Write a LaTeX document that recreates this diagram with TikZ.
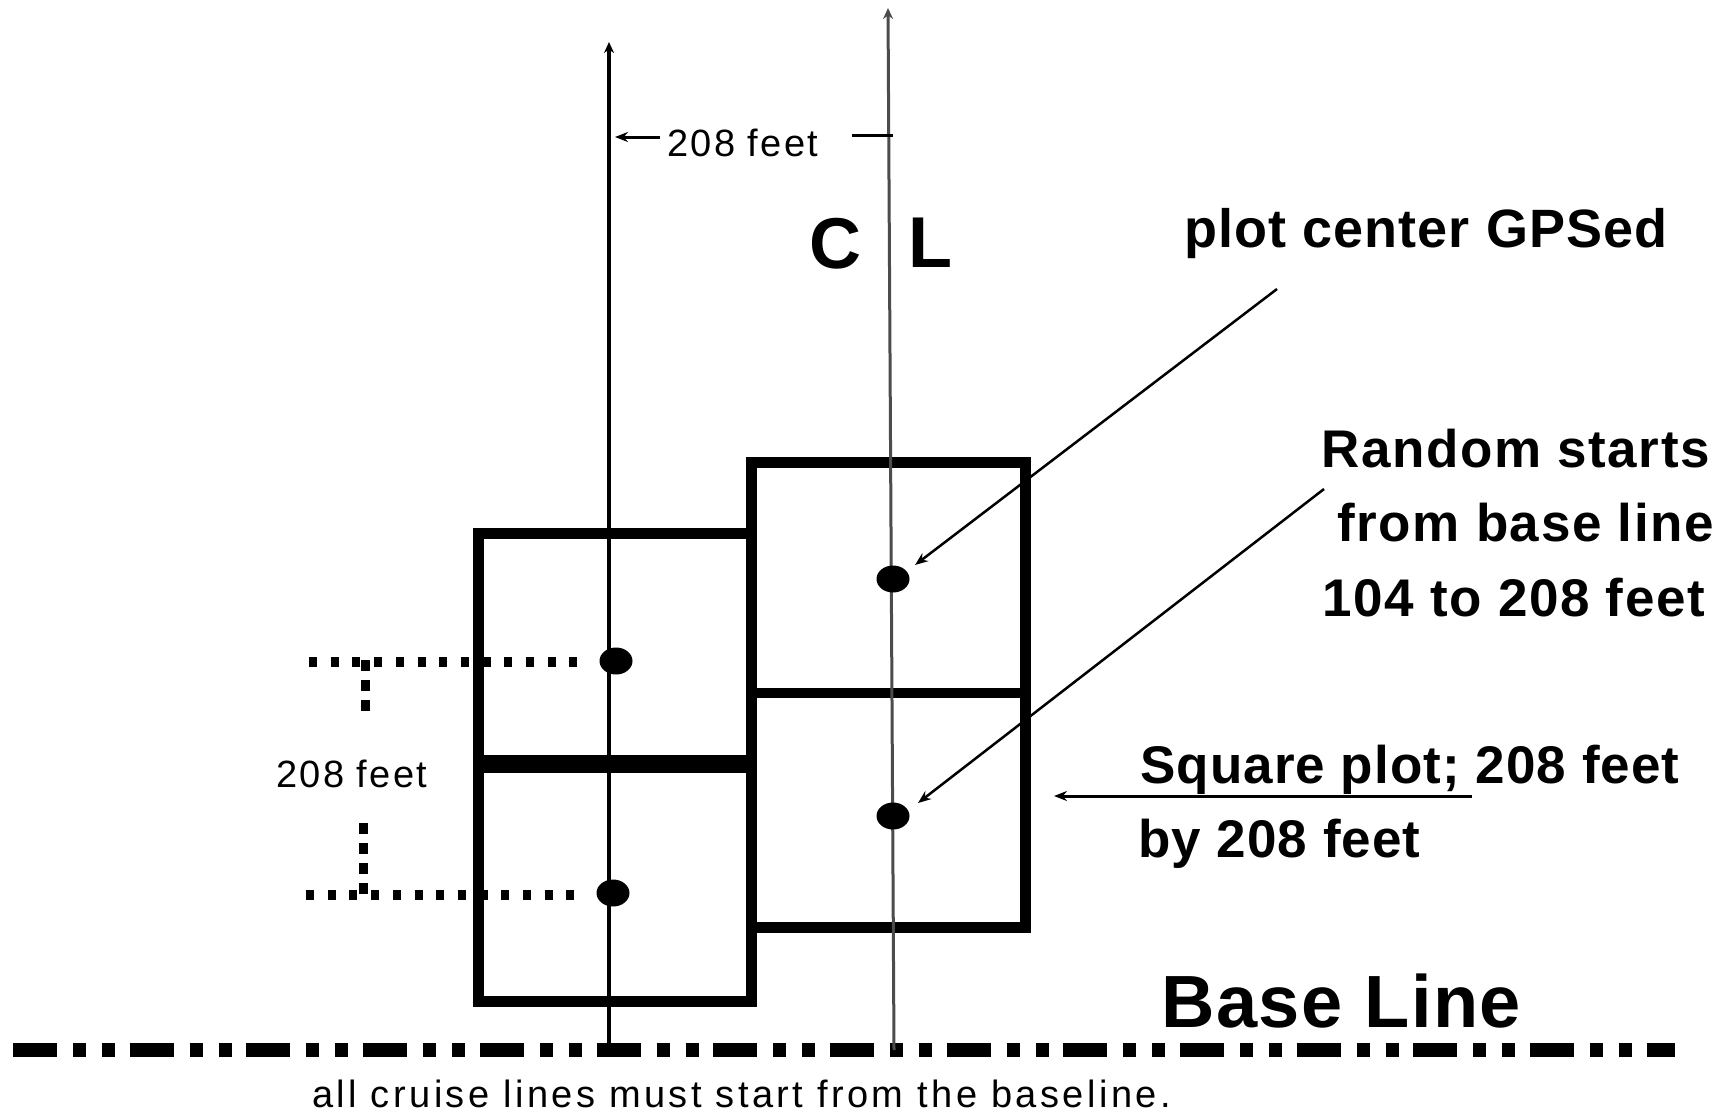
\documentclass[tikz,border=0pt]{standalone}
\usepackage{fontspec}
\setmainfont{Liberation Sans}
\newfontfamily\lsp[LetterSpace=6]{Liberation Sans}
\newfontfamily\lspw[LetterSpace=9]{Liberation Sans}
\newfontfamily\bsp[LetterSpace=2,BoldFont={Liberation Sans Bold}]{Liberation Sans}
\newfontfamily\bspw[LetterSpace=3,BoldFont={Liberation Sans Bold}]{Liberation Sans}
\usetikzlibrary{arrows.meta,shapes.geometric}
\begin{document}
\begin{tikzpicture}[x=1pt,y=-1pt,
  box/.style={line width=11pt, line join=miter},
  thinline/.style={line width=2.5pt},
  tipa/.style={-{Stealth[length=13pt,width=10pt]}},
  tipv/.style={-{Stealth[length=11pt,width=10pt]}},
  dotline/.style={line width=10pt, dash pattern=on 8pt off 13.7pt},
  vdotline/.style={line width=9pt, dash pattern=on 11pt off 9pt},
  dashdot/.style={line width=14pt, dash pattern=on 44pt off 16pt on 13pt off 16pt on 13pt off 14.7pt},
  dot/.style={ellipse, fill=black, minimum width=33pt, minimum height=27pt, inner sep=0pt},
  lbl/.style={inner sep=0pt, anchor=base west},
  reg/.style={lbl, font=\lsp\fontsize{38}{44}\selectfont},
  bold/.style={lbl, font=\bspw\bfseries\fontsize{53}{60}\selectfont},
  boldn/.style={lbl, font=\bsp\bfseries\fontsize{53}{60}\selectfont}
]
\useasboundingbox (0,0) rectangle (1731,1114);

% baseline
\coordinate (bl0) at (13,1050);
\coordinate (bl1) at (1675,1050);
\draw[dashdot] (bl0) -- (bl1);

% boxes
\draw[box] (478,533.5) rectangle (751,1001.5);
\draw[line width=18pt] (472.5,764) -- (756.5,764);
\draw[box] (751,462.5) rectangle (1025,927.5);
\draw[line width=10pt] (751,693) -- (1025,693);

% cruise lines
\coordinate (b1) at (609,1050); \coordinate (t1) at (609,42);
\coordinate (b2) at (894,1050); \coordinate (t2) at (888,8);
\draw[line width=3.5pt, tipv] (b1) -- (t1);
\draw[line width=3pt, black!70, tipv] (b2) -- (t2);

% plot centers
\node[dot] (d1) at (616,661) {};
\node[dot] (d2) at (613,893) {};
\node[dot] (d3) at (893,579) {};
\node[dot] (d4) at (893,816) {};

% dotted dimension lines
\coordinate (h1a) at (309,662); \coordinate (h1b) at (584,662);
\coordinate (h2a) at (306,895); \coordinate (h2b) at (581,895);
\draw[dotline] (h1a) -- (h1b);
\draw[dotline] (h2a) -- (h2b);
\coordinate (v1a) at (365,660); \coordinate (v1b) at (365,716);
\coordinate (v2a) at (363,823); \coordinate (v2b) at (363,896);
\draw[vdotline] (v1a) -- (v1b);
\draw[vdotline] (v2a) -- (v2b);
\node[reg] (lft) at (276,787) {208 feet};

% top dimension
\node[reg] (dimtop) at (667,156) {208 feet};
\coordinate (dl0) at (660,137); \coordinate (dl1) at (615,137);
\coordinate (dr0) at (852,135); \coordinate (dr1) at (893,135);
\draw[line width=3pt, tipa] (dl0) -- (dl1);
\draw[line width=3pt] (dr0) -- (dr1);

% C L
\node[lbl, font=\bfseries\fontsize{72}{80}\selectfont] (cc) at (809,268) {C};
\node[lbl, font=\bfseries\fontsize{72}{80}\selectfont] (ll) at (908,267) {L};

% right labels
\node[lbl, font=\bsp\bfseries\fontsize{54}{60}\selectfont] (pc) at (1184,247) {plot center GPSed};
\node[bold] (r1) at (1321,467) {Random starts};
\node[bold] (r2) at (1337,541) {from base line};
\node[bold] (r3) at (1322,616) {104 to 208 feet};
\node[boldn] (s1) at (1140,783) {Square plot; 208 feet};
\node[boldn] (s2) at (1138,857) {by 208 feet};
\node[lbl, font=\bsp\bfseries\fontsize{74}{80}\selectfont] (base) at (1161,1027) {Base Line};
\node[lbl, font=\lspw\fontsize{38}{44}\selectfont] (note) at (312,1107) {all cruise lines must start from the baseline.};

% pointer arrows
\coordinate (a1s) at (1277,289); \coordinate (a1e) at (915,565);
\coordinate (a2s) at (1324,489); \coordinate (a2e) at (918,803);
\coordinate (a3s) at (1472,796); \coordinate (a3e) at (1054,796);
\draw[thinline, tipa] (a1s) -- (a1e);
\draw[thinline, tipa] (a2s) -- (a2e);
\draw[line width=3pt, tipa] (a3s) -- (a3e);
\end{tikzpicture}
\end{document}
